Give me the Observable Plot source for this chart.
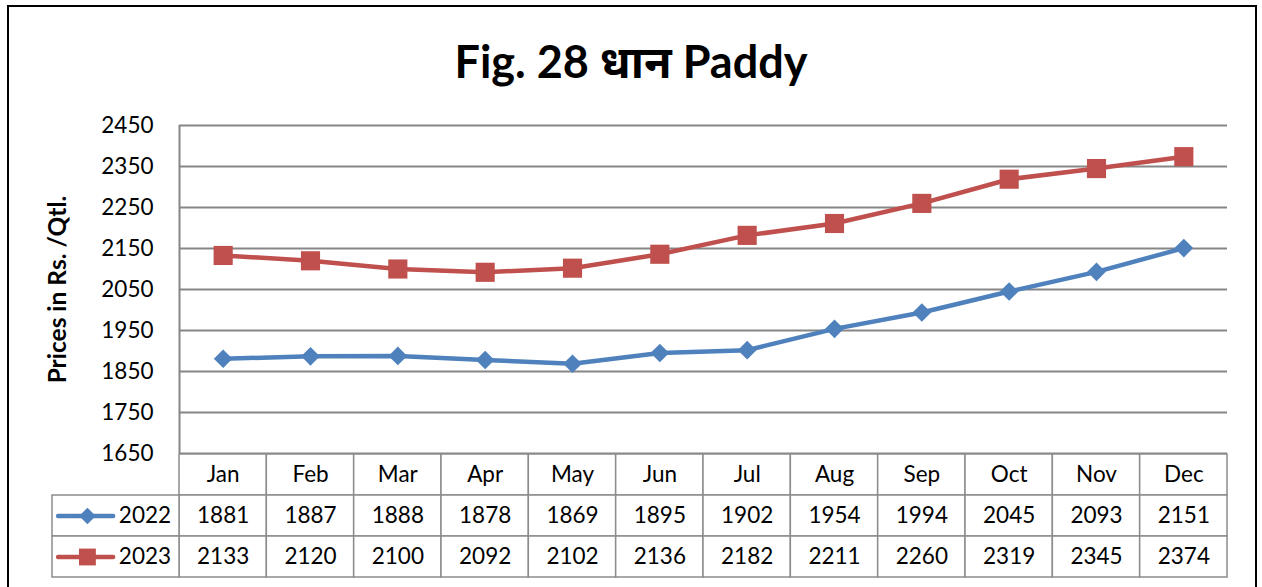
<!DOCTYPE html>
<html>
<head>
<meta charset="utf-8">
<script src="https://cdn.jsdelivr.net/npm/d3@7"></script>
<script src="https://cdn.jsdelivr.net/npm/@observablehq/plot@0.6"></script>
<style>
  html, body { margin: 0; padding: 0; background: #fff; width: 1262px; height: 587px; overflow: hidden; }
  #frame { position: absolute; left: 7px; top: 5px; width: 1246px; height: 700px; border: 2px solid #000; box-sizing: content-box; }
  #title { position: absolute; left: 0; top: 35px; width: 1262px; text-align: center; font-family: Lato, "Noto Sans", sans-serif; font-weight: 700; font-size: 45px; line-height: 52px; color: #000; }
  #chart { position: absolute; left: 0; top: 100px; }
  #table { position: absolute; left: 0; top: 452px; }
  svg { overflow: visible; }
</style>
</head>
<body>
<div id="frame"></div>
<div id="title">Fig. 28 धान Paddy</div>
<div id="chart"></div>
<div id="table"></div>
<script>
// ---- data ----
const months = ["Jan","Feb","Mar","Apr","May","Jun","Jul","Aug","Sep","Oct","Nov","Dec"];
const years = ["2022", "2023"];
const values2022 = [1881, 1887, 1888, 1878, 1869, 1895, 1902, 1954, 1994, 2045, 2093, 2151];
const values2023 = [2133, 2120, 2100, 2092, 2102, 2136, 2182, 2211, 2260, 2319, 2345, 2374];
const yTicks = [1650, 1750, 1850, 1950, 2050, 2150, 2250, 2350, 2450];
const yLabel = "Prices in Rs. /Qtl.";

const colors = {"2022": "#4F81BD", "2023": "#C0504D"};
const symbols = {"2022": "diamond2", "2023": "square"};
const radii = {"2022": 8.4, "2023": 10.8};

const series = {"2022": values2022, "2023": values2023};
const rows = years.flatMap(yr => series[yr].map((v, i) => ({year: yr, i, month: months[i], value: v})));

const font = "Lato, 'Noto Sans', sans-serif";
const W = 1262, ML = 179, MR = 35;
const legendLeft = -(ML - 52) / ((W - ML - MR) / 12);

// ---- chart ----
const chart = Plot.plot({
  width: W, height: 353,
  marginTop: 25, marginBottom: 0, marginLeft: ML, marginRight: MR,
  style: {fontFamily: font, fontSize: "22px", color: "#000", background: "transparent"},
  x: {type: "linear", domain: [0, 12], axis: null},
  y: {domain: [1650, 2450]},
  marks: [
    Plot.gridY(yTicks, {stroke: "#868686", strokeOpacity: 1, strokeWidth: 2}),
    Plot.axisY(yTicks, {tickSize: 0, tickPadding: 26, fontSize: 22.5, label: null, tickFormat: d => String(d)}),
    Plot.ruleX([0], {stroke: "#868686", strokeWidth: 2}),
    Plot.text([yLabel], {frameAnchor: "left", textAnchor: "middle", dx: -121, rotate: -90, fontWeight: "bold", fontSize: 24.5, fill: "#000"}),
    ...years.map(yr => Plot.line(rows.filter(d => d.year === yr), {x: d => d.i + 0.5, y: "value", stroke: colors[yr], strokeWidth: 4.5})),
    ...years.map(yr => Plot.dot(rows.filter(d => d.year === yr), {x: d => d.i + 0.5, y: "value", symbol: symbols[yr], r: radii[yr], fill: colors[yr], stroke: "none"}))
  ]
});
document.getElementById("chart").appendChild(chart);

// ---- data table ----
const tableRows = ["header", ...years];
const headerCells = months.map((m, i) => ({row: "header", col: i, text: m}));
const valueCells = rows.map(d => ({row: d.year, col: d.i, text: String(d.value)}));
const legendCells = years.map(yr => ({row: yr, year: yr}));

const table = Plot.plot({
  width: W, height: 128,
  marginTop: 1, marginBottom: 2, marginLeft: ML, marginRight: MR,
  style: {fontFamily: font, fontSize: "22px", color: "#000", background: "transparent"},
  x: {type: "linear", domain: [0, 12], axis: null},
  y: {type: "band", domain: tableRows, padding: 0, axis: null},
  marks: [
    Plot.barX([...headerCells, ...valueCells], {x1: "col", x2: d => d.col + 1, y: "row", fill: "white", stroke: "#8c8c8c", strokeWidth: 1.5}),
    Plot.barX(legendCells, {x1: legendLeft, x2: 0, y: "row", fill: "white", stroke: "#8c8c8c", strokeWidth: 1.5}),
    Plot.text([...headerCells, ...valueCells], {x: d => d.col + 0.5, y: "row", text: "text", fontSize: 22.5, fill: "#000"}),
    ...years.map(yr => Plot.ruleY(legendCells.filter(d => d.year === yr), {y: "row", x1: legendLeft + 0.07, x2: legendLeft + 0.70, stroke: colors[yr], strokeWidth: 4.5, strokeLinecap: "round"})),
    ...years.map(yr => Plot.dot(legendCells.filter(d => d.year === yr), {x: legendLeft + 0.40, y: "row", symbol: symbols[yr], r: yr === "2022" ? 7.5 : 9.5, fill: colors[yr], stroke: "none"})),
    Plot.text(legendCells, {x: legendLeft + 0.76, y: "row", text: "year", textAnchor: "start", fontSize: 22.5, fill: "#000"})
  ]
});
document.getElementById("table").appendChild(table);
</script>
</body>
</html>
